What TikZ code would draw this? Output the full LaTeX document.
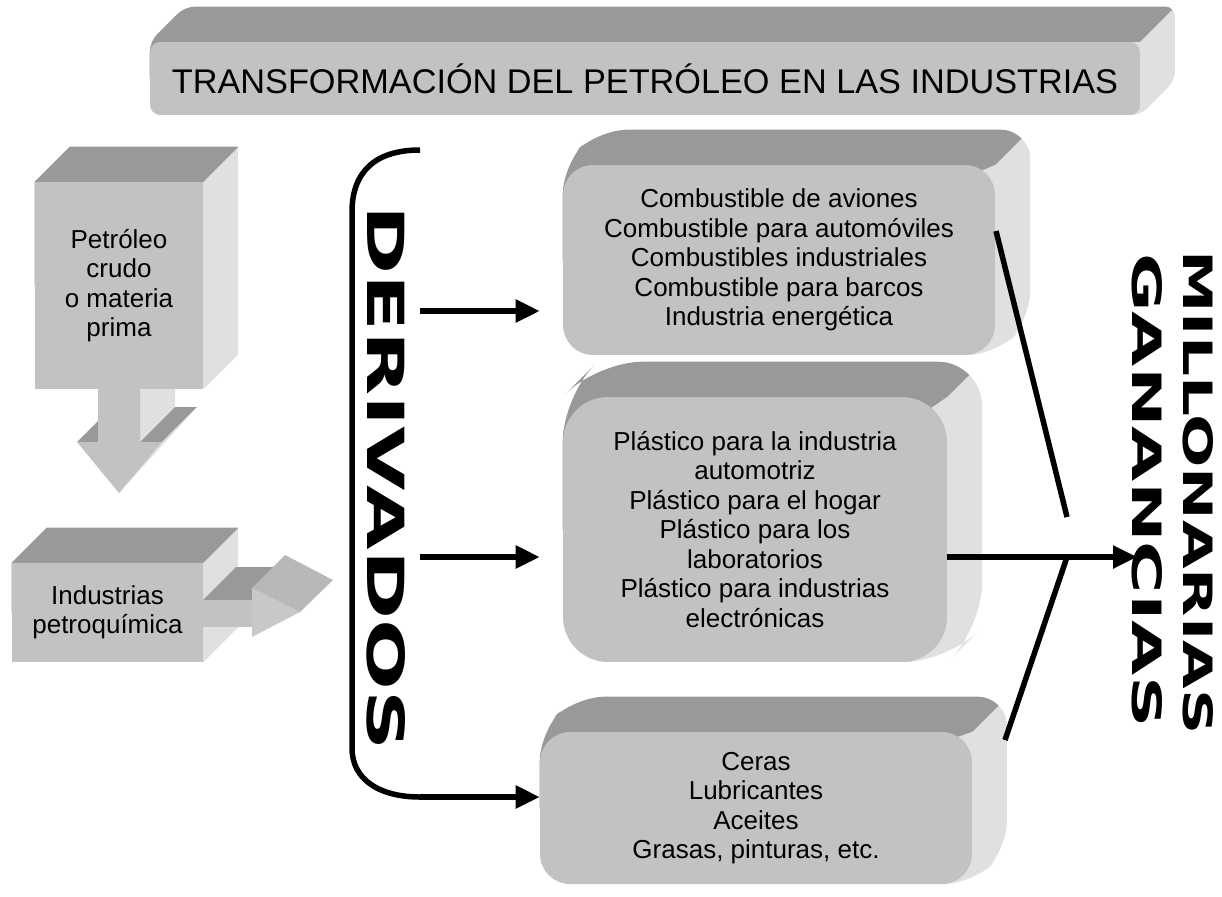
\documentclass[tikz,border=0pt]{standalone}
\usepackage{fontspec}
\setmainfont{Liberation Sans}
\newfontfamily\widefont{DejaVu Sans}
\usetikzlibrary{arrows.meta,backgrounds}

\definecolor{frontgray}{gray}{0.76}
\definecolor{topgray}{gray}{0.60}
\definecolor{sidegray}{gray}{0.88}
\definecolor{headgray}{gray}{0.72}

\tikzset{
  frontface/.style={fill=frontgray, draw=none, inner sep=0pt, align=center,
    font=\fontsize{14.8}{16.8}\selectfont},
  topface/.style={fill=topgray},
  sideface/.style={fill=sidegray},
  blackline/.style={line width=0.11cm},
  blackarrow/.style={line width=0.11cm, -{Triangle[length=0.48cm,width=0.44cm]}},
  widetext/.style={rotate=-90, anchor=north west, inner sep=0pt},
}

% top and right faces behind a front face node
\newcommand{\extrude}[2]{%
  \begin{scope}
  \clip[rounded corners=#2] (#1.south west) -- (#1.north west) -- ++(35,-35)
    -- ([shift={(35,-35)}]#1.north east) -- ([shift={(35,-35)}]#1.south east) -- (#1.south east) -- cycle;
  \fill[sideface] (#1.south) rectangle ([shift={(35,-35)}]#1.north east);
  \fill[topface] (#1.west) -- (#1.north west) -- ++(35,-35)
    -- ([shift={(35,-35)}]#1.north east) -- (#1.north east) -- (#1.center) -- cycle;
  \end{scope}}

\begin{document}
\begin{tikzpicture}[x=0.02cm,y=-0.02cm,line join=round]
\useasboundingbox (0,0) rectangle (1222,896);

% title
\node[frontface, rounded corners=2mm, minimum width=19.8cm, minimum height=1.46cm,
  font=\fontsize{19.5}{22}\selectfont] (title) at (645,78.5) {TRANSFORMACIÓN DEL PETRÓLEO EN LAS INDUSTRIAS};

% down arrow
\fill[sideface] (140,380) -- (175,380) -- (175,407) -- (140,442) -- cycle;
\fill[topface] (140,442) -- (162,442) -- (197,407) -- (175,407) -- cycle;
\fill[topface] (77,442) -- (98,442) -- (98,421) -- cycle;
\fill[sideface] (162,442) -- (197,407) -- (119,493) -- cycle;
\fill[frontgray] (98,380) -- (140,380) -- (140,442) -- (162,442) -- (119,493) -- (77,442) -- (98,442) -- cycle;

\node[frontface, minimum width=3.36cm, minimum height=4.14cm] (petroleo) at (119,285.5) {Petróleo\\crudo\\o materia\\prima};
\node[frontface, minimum width=3.82cm, minimum height=1.98cm] (industrias) at (107.5,612.5) {Industrias\\petroquímica};

% right arrow
\fill[topface] (203,600) -- (252,600) -- (285,567) -- (236,567) -- cycle;
\fill[headgray] (252,588) -- (285,555) -- (333,580) -- (300,612) -- cycle;
\fill[frontgray] (203,600) -- (252,600) -- (252,627) -- (203,627) -- cycle;
\fill[frontgray!90!white] (252,588) -- (300,612) -- (252,637) -- cycle;

% products
\node[frontface, rounded corners=6mm, minimum width=8.64cm, minimum height=3.8cm] (combus) at (779,260)
  {Combustible de aviones\\Combustible para automóviles\\Combustibles industriales\\Combustible para barcos\\Industria energética};
\node[frontface, rounded corners=9mm, minimum width=7.68cm, minimum height=5.3cm] (plastico) at (755,529.5)
  {Plástico para la industria\\automotriz\\Plástico para el hogar\\Plástico para los\\laboratorios\\Plástico para industrias\\electrónicas};
\node[frontface, rounded corners=6mm, minimum width=8.64cm, minimum height=3.04cm] (ceras) at (756,808)
  {Ceras\\Lubricantes\\Aceites\\Grasas, pinturas, etc.};

\begin{scope}[on background layer]
\extrude{title}{2mm}
\extrude{petroleo}{0mm}
\extrude{industrias}{0mm}
\extrude{combus}{6mm}
\extrude{plastico}{9mm}
\extrude{ceras}{6mm}
\end{scope}

% derivados
\coordinate (brtop) at (420,150);
\coordinate (brbot) at (420,797);
\coordinate (d1) at (420,311);
\coordinate (d2) at (420,557);
\draw[blackline] (brtop) .. controls (375,150) and (352,172) .. (352,212) -- (352,748)
  .. controls (352,780) and (380,797) .. (brbot);
\node[widetext] (derivados) at (406,205) {\resizebox{10.9cm}{0.76cm}{\widefont\bfseries DERIVADOS}};

\draw[blackarrow, shorten >=0.46cm] (d1) -- (d1 -| combus.west);
\draw[blackarrow, shorten >=0.46cm] (d2) -- (d2 -| plastico.west);
\draw[blackarrow] (brbot) -- (brbot -| ceras.west);

% ganancias
\coordinate (ja) at (996,231);
\coordinate (jb) at (1067,517);
\coordinate (jc) at (1067,557);
\coordinate (jd) at (1005,740);
\coordinate (gan) at (1137,557);
\draw[blackline] (ja) -- (jb);
\draw[blackline] (jc) -- (jd);
\draw[blackarrow] (plastico.east |- gan) -- (gan);

\node[widetext] (millonarias) at (1214,250) {\resizebox{9.68cm}{0.6cm}{\widefont\bfseries MILLONARIAS}};
\node[widetext] (ganancias) at (1163,253) {\resizebox{9.48cm}{0.6cm}{\widefont\bfseries GANANCIAS}};
\end{tikzpicture}
\end{document}
